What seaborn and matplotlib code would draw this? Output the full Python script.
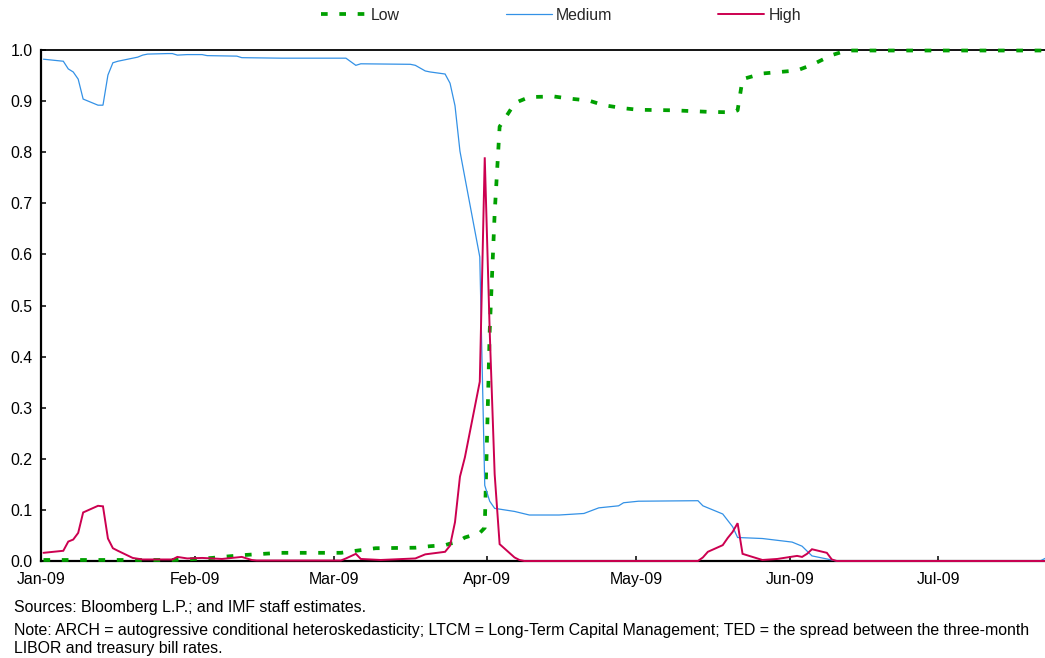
import matplotlib
matplotlib.use("Agg")
import matplotlib.pyplot as plt
import matplotlib.dates as mdates
import matplotlib.ticker as mticker
import numpy as np
import pandas as pd
import seaborn as sns

# ---------------- data ----------------
series_names = ["Low", "Medium", "High"]

low_dates = ["2009-01-01", "2009-01-27", "2009-01-30", "2009-02-04", "2009-02-06",
             "2009-02-11", "2009-02-16", "2009-02-18", "2009-03-02", "2009-03-05",
             "2009-03-09", "2009-03-17", "2009-03-20", "2009-03-23", "2009-03-24",
             "2009-03-25", "2009-03-26", "2009-03-27", "2009-03-30", "2009-03-31",
             "2009-04-01", "2009-04-02", "2009-04-03", "2009-04-06", "2009-04-07",
             "2009-04-09", "2009-04-14", "2009-04-17", "2009-04-21", "2009-04-24",
             "2009-04-28", "2009-05-01", "2009-05-08", "2009-05-15", "2009-05-20",
             "2009-05-21", "2009-05-22", "2009-05-26", "2009-06-02", "2009-06-05",
             "2009-06-09", "2009-06-12", "2009-07-22"]
low_values = [0.002, 0.002, 0.003, 0.006, 0.008,
              0.012, 0.015, 0.016, 0.016, 0.020,
              0.025, 0.026, 0.029, 0.031, 0.034,
              0.036, 0.040, 0.046, 0.055, 0.065,
              0.450, 0.680, 0.850, 0.895, 0.900,
              0.908, 0.909, 0.905, 0.901, 0.892,
              0.886, 0.883, 0.882, 0.879, 0.878,
              0.882, 0.943, 0.954, 0.960, 0.971,
              0.990, 0.999, 0.999]

medium_dates = ["2009-01-01", "2009-01-02", "2009-01-05", "2009-01-06", "2009-01-07",
                "2009-01-08", "2009-01-09", "2009-01-12", "2009-01-13", "2009-01-14",
                "2009-01-15", "2009-01-16", "2009-01-20", "2009-01-21", "2009-01-22",
                "2009-01-26", "2009-01-27", "2009-01-28", "2009-01-30", "2009-02-02",
                "2009-02-03", "2009-02-09", "2009-02-10", "2009-02-18", "2009-03-03",
                "2009-03-05", "2009-03-06", "2009-03-16", "2009-03-17", "2009-03-19",
                "2009-03-20", "2009-03-23", "2009-03-24", "2009-03-25", "2009-03-26",
                "2009-03-27", "2009-03-30", "2009-03-31", "2009-04-01", "2009-04-02",
                "2009-04-06", "2009-04-09", "2009-04-15", "2009-04-20", "2009-04-23",
                "2009-04-27", "2009-04-28", "2009-05-01", "2009-05-13", "2009-05-14",
                "2009-05-18", "2009-05-20", "2009-05-21", "2009-05-26", "2009-06-01",
                "2009-06-03", "2009-06-05", "2009-06-09", "2009-06-10", "2009-07-21",
                "2009-07-22"]
medium_values = [0.982, 0.981, 0.978, 0.963, 0.957,
                 0.943, 0.904, 0.892, 0.892, 0.951,
                 0.975, 0.978, 0.986, 0.990, 0.992,
                 0.993, 0.993, 0.990, 0.991, 0.991,
                 0.989, 0.988, 0.985, 0.984, 0.984,
                 0.970, 0.973, 0.972, 0.970, 0.959,
                 0.957, 0.953, 0.935, 0.891, 0.802,
                 0.750, 0.595, 0.148, 0.117, 0.103,
                 0.097, 0.090, 0.090, 0.093, 0.104,
                 0.108, 0.114, 0.117, 0.118, 0.108,
                 0.092, 0.067, 0.046, 0.044, 0.037,
                 0.029, 0.010, 0.002, 0.000, 0.000,
                 0.005]

high_dates = ["2009-01-01", "2009-01-02", "2009-01-05", "2009-01-06", "2009-01-07",
              "2009-01-08", "2009-01-09", "2009-01-12", "2009-01-13", "2009-01-14",
              "2009-01-15", "2009-01-16", "2009-01-19", "2009-01-21", "2009-01-27",
              "2009-01-28", "2009-01-30", "2009-02-02", "2009-02-06", "2009-02-10",
              "2009-02-12", "2009-02-13", "2009-03-02", "2009-03-03", "2009-03-05",
              "2009-03-06", "2009-03-10", "2009-03-17", "2009-03-19", "2009-03-23",
              "2009-03-24", "2009-03-25", "2009-03-26", "2009-03-27", "2009-03-30",
              "2009-03-31", "2009-04-01", "2009-04-02", "2009-04-03", "2009-04-06",
              "2009-04-07", "2009-04-08", "2009-05-13", "2009-05-14", "2009-05-15",
              "2009-05-18", "2009-05-19", "2009-05-20", "2009-05-21", "2009-05-22",
              "2009-05-26", "2009-05-29", "2009-06-02", "2009-06-03", "2009-06-04",
              "2009-06-05", "2009-06-08", "2009-06-09", "2009-06-10", "2009-07-22"]
high_values = [0.016, 0.017, 0.020, 0.038, 0.042,
               0.055, 0.095, 0.108, 0.107, 0.044,
               0.025, 0.020, 0.006, 0.003, 0.003,
               0.008, 0.005, 0.006, 0.004, 0.008,
               0.002, 0.001, 0.001, 0.005, 0.014,
               0.004, 0.002, 0.005, 0.013, 0.018,
               0.030, 0.076, 0.165, 0.203, 0.351,
               0.790, 0.450, 0.170, 0.033, 0.007,
               0.002, 0.000, 0.000, 0.007, 0.018,
               0.031, 0.045, 0.057, 0.074, 0.014,
               0.002, 0.004, 0.010, 0.008, 0.014,
               0.023, 0.016, 0.003, 0.000, 0.000]

y_ticks = [0.0, 0.1, 0.2, 0.3, 0.4, 0.5, 0.6, 0.7, 0.8, 0.9, 1.0]

footnotes = [
    "Sources: Bloomberg L.P.; and IMF staff estimates.",
    "Note: ARCH = autogressive conditional heteroskedasticity; LTCM = Long-Term Capital Management; TED = the spread between the three-month",
    "LIBOR and treasury bill rates.",
]

# ---------------- style ----------------
sns.set_theme(style="white")
plt.rcParams["font.family"] = ["Liberation Sans", "DejaVu Sans"]
plt.rcParams["lines.scale_dashes"] = False
FS = 11.4

W, H = 1045, 658
fig = plt.figure(figsize=(W / 100, H / 100), dpi=100)
fig.patch.set_facecolor("white")
ax = fig.add_axes([41 / W, 1 - 561 / H, (1045 - 41) / W, (561 - 50) / H])
ax.set_facecolor("white")

styles = {
    "Low": dict(color="#00A000", linewidth=2.7, linestyle=(0, (4.8, 8.4))),
    "Medium": dict(color="#3391E6", linewidth=0.9, linestyle="-"),
    "High": dict(color="#CC0050", linewidth=1.4, linestyle="-"),
}
data = {
    "Low": (low_dates, low_values),
    "Medium": (medium_dates, medium_values),
    "High": (high_dates, high_values),
}
half_day = pd.Timedelta(hours=12)  # Excel date axis centres points within each day
for name in series_names:
    d, v = data[name]
    df = pd.DataFrame({"date": pd.to_datetime(d) + half_day, "value": v})
    sns.lineplot(data=df, x="date", y="value", ax=ax, label=name,
                 clip_on=False, zorder=3, solid_joinstyle="miter",
                 **styles[name])

ax.set_xlim(pd.Timestamp("2009-01-01"), pd.Timestamp("2009-07-22 12:00"))
ax.set_ylim(0, 1)
ax.set_yticks(y_ticks)
ax.yaxis.set_major_formatter(mticker.FormatStrFormatter("%.1f"))
ax.xaxis.set_major_locator(mdates.MonthLocator())
ax.xaxis.set_major_formatter(mdates.DateFormatter("%b-%y"))
ax.set_xlabel("")
ax.set_ylabel("")

for side in ["left", "bottom", "top"]:
    ax.spines[side].set_visible(True)
    ax.spines[side].set_color("black")
ax.spines["left"].set_linewidth(1.6)
ax.spines["bottom"].set_linewidth(1.6)
ax.spines["top"].set_linewidth(1.3)
ax.spines["right"].set_visible(False)

ax.tick_params(axis="both", which="major", direction="in", length=3.6, width=1.1,
               color="black", labelcolor="black", labelsize=FS,
               left=True, bottom=True)
ax.tick_params(axis="x", pad=8)
ax.tick_params(axis="y", pad=6)
ax.grid(False)

handles, labels = ax.get_legend_handles_labels()
ax.get_legend().remove()
fig.legend(handles, labels, loc="center", bbox_to_anchor=(561 / W, 1 - 15.5 / H),
           ncol=3, frameon=False, handlelength=2.9, handletextpad=0.25,
           columnspacing=6.7, fontsize=FS)

for txt, yb in zip(footnotes, [612, 635, 653]):
    fig.text(14 / W, 1 - yb / H, txt, fontsize=FS, ha="left", va="baseline",
             color="black")

fig.savefig("out.png", dpi=100, facecolor="white")
